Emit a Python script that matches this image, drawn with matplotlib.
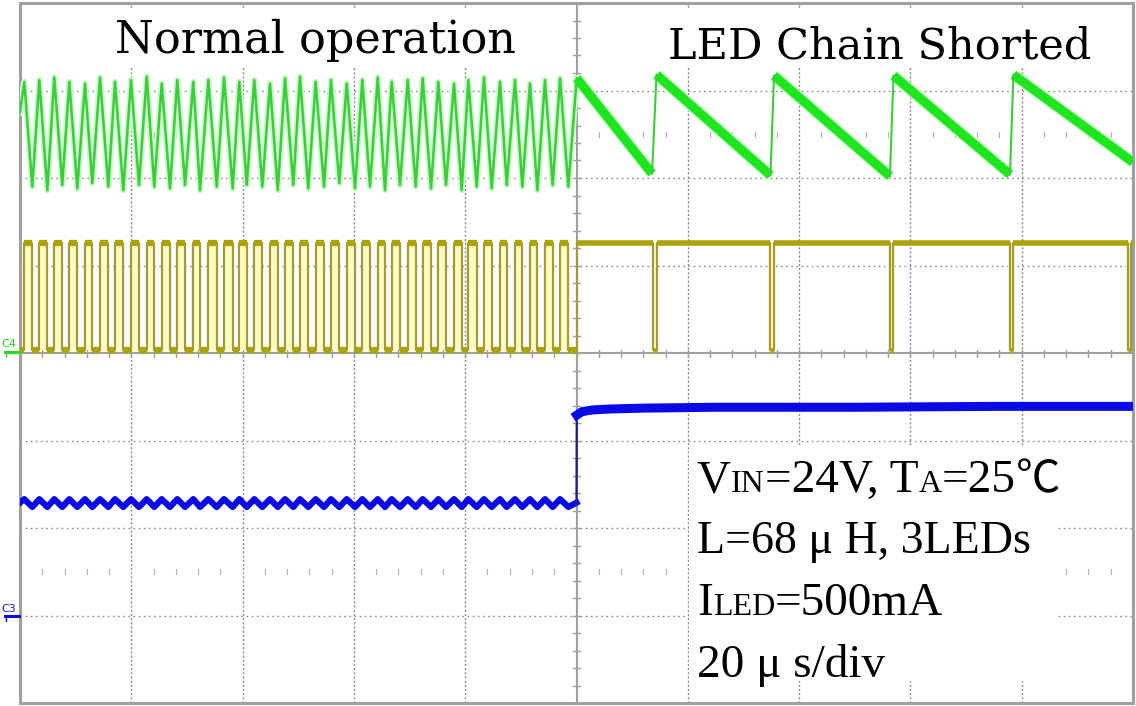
import matplotlib
matplotlib.use("Agg")
import matplotlib.pyplot as plt
import matplotlib.transforms as mtransforms
from matplotlib.patches import Rectangle
from matplotlib.lines import Line2D

# time axis in us (20 us/div, 10 div), vertical axis in divisions (-4..4)

# inductor current (green), normal operation: peak / valley times and levels
peak_t = [0.77, 3.47, 6.16, 8.86, 11.68, 14.38, 17.07, 19.95, 22.77, 25.46, 28.26, 31.14,
          33.84, 36.66, 39.41, 42.10, 44.92, 47.62, 50.31, 53.13, 55.88, 58.71, 61.51, 64.28,
          66.79, 69.67, 72.36, 75.17, 77.99, 80.56, 83.38, 86.25, 88.95, 91.64, 94.34, 97.04]
trough_t = [2.21, 4.91, 7.60, 10.30, 12.99, 15.87, 18.56, 21.38, 24.13, 26.95, 29.65, 32.35,
            35.35, 38.22, 40.74, 43.54, 46.32, 49.11, 51.81, 54.63, 57.38, 60.20, 62.89, 65.59,
            68.28, 71.11, 73.86, 76.55, 79.38, 82.07, 84.76, 87.46, 90.26, 92.96, 95.72, 98.53]
peak_v = [3.10, 3.12, 3.15, 3.10, 3.08, 3.15, 3.10, 3.12, 3.16, 3.08, 3.12, 3.10,
          3.12, 3.15, 3.10, 3.12, 3.08, 3.14, 3.16, 3.10, 3.12, 3.08, 3.12, 3.15,
          3.10, 3.12, 3.14, 3.10, 3.08, 3.12, 3.15, 3.10, 3.12, 3.08, 3.12, 3.14]
trough_v = [1.90, 1.86, 1.92, 1.88, 1.94, 1.90, 1.86, 1.92, 1.90, 1.88, 1.92, 1.86,
            1.90, 1.88, 1.92, 1.90, 1.86, 1.92, 1.88, 1.90, 1.94, 1.88, 1.90, 1.86,
            1.92, 1.90, 1.88, 1.92, 1.86, 1.90, 1.88, 1.92, 1.90, 1.86, 1.92, 1.90]
start_v = 2.75

# inductor current, LED chain shorted (sawtooth corners)
saw_t = [100.04, 113.57, 114.38, 134.86, 135.49, 156.33, 156.96, 177.90, 178.50, 200.0]
saw_v = [3.14, 2.05, 3.18, 2.03, 3.17, 2.02, 3.17, 2.04, 3.18, 2.18]

# switch node (olive)
sw_high = 1.26
sw_low = 0.03
dip_start = [113.80, 134.80, 156.30, 177.90, 199.10]
dip_end = [114.40, 135.50, 156.96, 178.50, 199.70]

# LED current (blue)
led_mid = -1.71
led_hi = -1.67
led_lo = -1.76
led_t = [100.05, 101.0, 103.0, 106.0, 112.0, 125.0, 150.0, 175.0, 200.0]
led_v = [-0.71, -0.67, -0.65, -0.64, -0.63, -0.62, -0.62, -0.61, -0.61]

title_left = "Normal operation"
title_right = "LED Chain Shorted"
SERIF = ["Liberation Serif", "DejaVu Serif"]
CJK = ["Noto Sans CJK JP", "DejaVu Sans"]
info_lines = [
    [("V", 34, SERIF), ("IN", 23, SERIF), ("=24V, T", 34, SERIF), ("A", 23, SERIF),
     ("=25", 34, SERIF), ("℃", 32, CJK)],
    [("L=68 μ H, 3LEDs", 33, SERIF)],
    [("I", 34, SERIF), ("LED", 23, SERIF), ("=500mA", 34, SERIF)],
    [("20 μ s/div", 34, SERIF)],
]
info_y = [-1.589, -2.286, -2.994, -3.703]

GRID = "#8c8c8c"
FRAME = "#a0a0a0"
GREEN = "#3ccc3c"
GREEN_HI = "#1ee61e"
OLIVE = "#aba300"
OLIVE_EDGE = "#a39a3c"
BLUE = "#0a0ae6"
TITLE_FONT = ["DejaVu Serif", "DejaVu Sans"]

fig = plt.figure(figsize=(11.36, 7.06), dpi=100)
ax = fig.add_axes([20 / 1136, 3 / 706, 1113 / 1136, 700 / 706])
ax.set_xlim(0, 200)
ax.set_ylim(-4, 4)
ax.set_xticks([])
ax.set_yticks([])
for s in ax.spines.values():
    s.set_color(FRAME)
    s.set_linewidth(2.2)

# graticule
for t in [20, 40, 60, 80, 120, 140, 160, 180]:
    ax.axvline(t, color=GRID, lw=1.0, ls=(0, (1.5, 1.5)), zorder=1)
for v in [-3, -2, -1, 1, 2, 3]:
    ax.axhline(v, color=GRID, lw=1.0, ls=(0, (1.2, 2.5)), zorder=1)
ax.axvline(100, color=FRAME, lw=1.5, zorder=1)
ax.axhline(0, color=FRAME, lw=1.5, zorder=1)
for k in range(1, 50):
    t = 4 * k
    ax.plot([t, t], [-0.04, 0.04], color=FRAME, lw=1.0, zorder=1)
    if k % 5:
        for row in (2.5, -2.5):
            ax.plot([t, t], [row - 0.03, row + 0.03], color="#b4b4b4", lw=0.8, zorder=1)
for k in range(-19, 20):
    v = 0.2 * k
    ax.plot([99.45, 100.55], [v, v], color=FRAME, lw=1.0, zorder=1)

# white boxes behind the labels
ax.add_patch(Rectangle((16.2, 3.27), 73.6, 0.67, color="white", zorder=1.5, lw=0))
ax.add_patch(Rectangle((115.0, 3.27), 79.0, 0.67, color="white", zorder=1.5, lw=0))
ax.add_patch(Rectangle((120.2, -3.749), 66.3, 2.686, color="white", zorder=1.5, lw=0))

# green trace, normal operation
gx = [0.0]
gy = [start_v]
for i in range(len(peak_t)):
    gx += [peak_t[i], trough_t[i]]
    gy += [peak_v[i], trough_v[i]]
gx.append(saw_t[0])
gy.append(saw_v[0])
ax.plot(gx, gy, color="#ccf8cc", lw=4.5, zorder=3)
ax.plot(gx, gy, color=GREEN, lw=1.8, zorder=4)

# green trace, sawtooth
for i in range(0, len(saw_t) - 1, 2):
    ax.plot(saw_t[i:i + 2], saw_v[i:i + 2], color="#c8f8c8", lw=8.5,
            solid_capstyle="butt", zorder=3)
    ax.plot(saw_t[i:i + 2], saw_v[i:i + 2], color=GREEN_HI, lw=6.5,
            solid_capstyle="butt", zorder=4)
for i in range(1, len(saw_t) - 1, 2):
    ax.plot(saw_t[i:i + 2], saw_v[i:i + 2], color=GREEN, lw=1.5, zorder=4)

# switch node
for a, b in zip(peak_t, trough_t):
    ax.fill_between([a, b], sw_low, sw_high, color="#ffffc0", lw=0, zorder=2)
for a, b in zip(dip_start, dip_end):
    ax.fill_between([a - 0.3, b + 0.3], sw_low, sw_high, color="#ffffc0", lw=0, zorder=2)
sx = [0.0]
sy = [sw_low]
for a, b in zip(peak_t, trough_t):
    sx += [a, a, b, b]
    sy += [sw_low, sw_high, sw_high, sw_low]
sx += [saw_t[0], saw_t[0]]
sy += [sw_low, sw_high]
for a, b in zip(dip_start, dip_end):
    sx += [a, a, b, b]
    sy += [sw_high, sw_low, sw_low, sw_high]
sx.append(200.0)
sy.append(sw_high)
ax.plot(sx, sy, color=OLIVE_EDGE, lw=1.6, zorder=3)

low_start = [0.0] + trough_t
low_end = peak_t + [saw_t[0]]
high_start = [saw_t[0]] + dip_end
high_end = dip_start + [200.0]
ax.hlines([sw_high] * len(peak_t), peak_t, trough_t, color=OLIVE, lw=4.5, zorder=3)
ax.hlines([sw_low] * len(low_start), low_start, low_end, color=OLIVE, lw=4.5, zorder=3)
ax.hlines([sw_high] * len(high_start), high_start, high_end, color=OLIVE, lw=4.0, zorder=3)
ax.hlines([sw_low] * len(dip_start), dip_start, dip_end, color=OLIVE, lw=3.5, zorder=3)

# LED current
bx = [0.0]
by = [led_mid]
for a, b in zip(peak_t, trough_t):
    bx += [a, b]
    by += [led_hi, led_lo]
bx.append(100.0)
by.append(led_mid)
ax.plot(bx, by, color=BLUE, lw=4.5, zorder=4)
ax.plot([100.0, led_t[0]], [led_mid, led_v[0]], color="#1c1c8c", lw=1.6, zorder=4)
ax.plot(led_t, led_v, color=BLUE, lw=6.5, zorder=4)

# titles
ax.text(17.07, 3.43, title_left, fontsize=32, family=TITLE_FONT, va="baseline",
        ha="left", zorder=5)
ax.text(116.4, 3.37, title_right, fontsize=31, family=TITLE_FONT, va="baseline",
        ha="left", zorder=5)

# condition block, mixed sizes on one baseline
renderer = fig.canvas.get_renderer()
for line, y in zip(info_lines, info_y):
    dx = 0.0
    for s, size, fam in line:
        tr = mtransforms.offset_copy(ax.transData, fig=fig, x=dx, y=0, units="dots")
        txt = ax.text(121.65, y, s, fontsize=size, family=fam, va="baseline",
                      ha="left", transform=tr, zorder=5)
        dx += txt.get_window_extent(renderer).width

# channel markers at the left edge
def px(x, y):
    return x / 1136, 1 - y / 706

fig.text(*px(1, 347), "C4", fontsize=8, color="#22cc22", family="DejaVu Sans")
fig.add_artist(Line2D(*zip(px(5, 351.5), px(19, 351.5)), color="#22dd22", lw=2.2))
fig.add_artist(Line2D(*zip(px(5.5, 351), px(5.5, 356)), color="#22dd22", lw=1))
fig.text(*px(1, 612), "C3", fontsize=8, color="#1a1a9a", family="DejaVu Sans")
fig.add_artist(Line2D(*zip(px(5, 616), px(19, 616)), color=BLUE, lw=2.2))
fig.add_artist(Line2D(*zip(px(5.5, 616), px(5.5, 621)), color=BLUE, lw=1))

fig.savefig("out.png", dpi=100, facecolor="white")
